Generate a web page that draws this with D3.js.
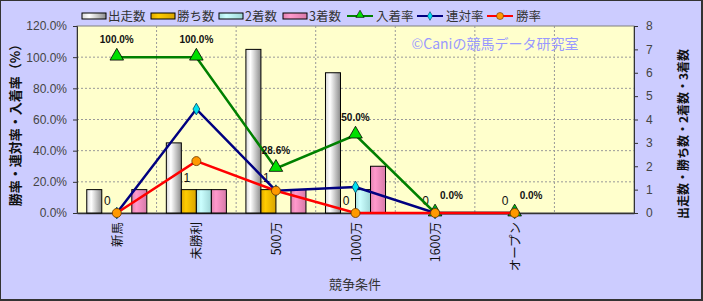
<!DOCTYPE html>
<html><head><meta charset="utf-8">
<script src="https://cdn.jsdelivr.net/npm/d3@7"></script>
<style>html,body{margin:0;padding:0;background:#fff}svg{display:block}</style>
</head><body>
<svg id="c" width="703" height="301"></svg>
<script>
const categories = ["新馬","未勝利","500万","1000万","1600万","オープン",""];
const barSeries = ["出走数","勝ち数","2着数","3着数"];
const runs   = [1,3,7,6,0,0];
const wins   = [0,1,1,0,0,0];
const second = [0,1,0,1,0,0];
const third  = [1,1,1,2,0,0];
const placeRate = [1.0,1.0,0.286,0.5,0,0];
const rentaiRate = [0,0.667,0.143,0.167,0,0];
const winRate = [0,0.333,0.143,0,0,0];
const leftTicks = [0,0.2,0.4,0.6,0.8,1.0,1.2];
const rightTicks = [0,1,2,3,4,5,6,7,8];

const svg = d3.select("#c");
const W=703,H=301;
const L=77,R=634,T=26,B=213;
const jp = "'Noto Sans CJK JP','Noto Sans',sans-serif";
const num = "'Liberation Sans',Arial,sans-serif";

svg.append("rect").attr("x",0).attr("y",0).attr("width",W).attr("height",H).attr("fill","#CCCCFF");
svg.append("rect").attr("x",0.5).attr("y",0.5).attr("width",W-2).attr("height",H-2).attr("fill","none").attr("stroke","#333").attr("stroke-width",1);
svg.append("line").attr("x1",W-1).attr("x2",W-1).attr("y1",0).attr("y2",H).attr("stroke","#333").attr("stroke-width",2);
svg.append("line").attr("x1",0).attr("x2",W).attr("y1",H-1).attr("y2",H-1).attr("stroke","#333").attr("stroke-width",2);

const x = d3.scaleBand().domain(categories).range([L,R]).paddingInner(0).paddingOuter(0);
const xs = d3.scaleBand().domain(barSeries).range([0,x.bandwidth()]).paddingInner(0).paddingOuter(0.65);
const yL = d3.scaleLinear().domain([0,1.2]).range([B,T]);
const yR = d3.scaleLinear().domain([0,8]).range([B,T]);

const defs = svg.append("defs");
function grad(id, stops){
  const g = defs.append("linearGradient").attr("id",id).attr("x1","0").attr("x2","1").attr("y1","0").attr("y2","0");
  stops.forEach(s=>g.append("stop").attr("offset",s[0]).attr("stop-color",s[1]));
}
grad("g0",[[0,"#d8d8d8"],[0.3,"#ffffff"],[1,"#8c8c8c"]]);
grad("g1",[[0,"#e0a800"],[0.3,"#ffcc00"],[1,"#d9a400"]]);
grad("g2",[[0,"#a8e0e0"],[0.3,"#ccffff"],[1,"#9ed6d6"]]);
grad("g3",[[0,"#e083b0"],[0.3,"#ff99cc"],[1,"#d77aa8"]]);
const fills = ["url(#g0)","url(#g1)","url(#g2)","url(#g3)"];

svg.append("rect").attr("x",L).attr("y",T).attr("width",R-L).attr("height",B-T).attr("fill","#FFFFCC").attr("stroke","#808080");

const grid = svg.append("g");
leftTicks.slice(1,-1).forEach(t=>{
  grid.append("line").attr("x1",L).attr("x2",R).attr("y1",yL(t)).attr("y2",yL(t))
    .attr("stroke","#999").attr("stroke-dasharray","2,2").attr("stroke-width",1);
});
categories.slice(1).forEach(c=>{
  grid.append("line").attr("x1",x(c)).attr("x2",x(c)).attr("y1",T).attr("y2",B)
    .attr("stroke","#999").attr("stroke-dasharray","2,2").attr("stroke-width",1);
});

const axL = d3.axisLeft(yL).tickValues(leftTicks).tickFormat(d=>(d*100).toFixed(1)+"%").tickSize(4).tickPadding(6);
const gL = svg.append("g").attr("transform",`translate(${L},0)`).call(axL);
gL.select(".domain").attr("stroke","#333");
gL.selectAll(".tick line").attr("stroke","#333");
gL.selectAll("text").attr("font-family",num).attr("font-size",12).attr("fill","#444");

const axR = d3.axisRight(yR).tickValues(rightTicks).tickFormat(d3.format("d")).tickSize(4).tickPadding(8);
const gR = svg.append("g").attr("transform",`translate(${R},0)`).call(axR);
gR.select(".domain").attr("stroke","#333");
gR.selectAll(".tick line").attr("stroke","#333");
gR.selectAll("text").attr("font-family",num).attr("font-size",12).attr("fill","#444");

const axB = d3.axisBottom(x).tickValues([]).tickSize(0);
const gB = svg.append("g").attr("transform",`translate(0,${B})`).call(axB);
gB.select(".domain").attr("stroke","#333").attr("stroke-width",1.5);

svg.append("g").selectAll("text").data(categories.filter(c=>c!=="")).join("text")
  .attr("transform",c=>`translate(${x(c)+x.bandwidth()/2+5},222) rotate(-90)`)
  .attr("text-anchor","end").attr("font-family",jp).attr("font-size",12.5).attr("fill","#111")
  .text(c=>c);

svg.append("text").attr("transform","translate(355,289)").attr("text-anchor","middle")
  .attr("font-family",jp).attr("font-size",13).attr("fill","#333").text("競争条件");
svg.append("text").attr("transform","translate(20,122) rotate(-90)").attr("text-anchor","middle")
  .attr("font-family",jp).attr("font-size",13).attr("font-weight","bold").attr("fill","#111").text("勝率・連対率・入着率（%）");
svg.append("text").attr("transform","translate(688,134) rotate(-90)").attr("text-anchor","middle")
  .attr("font-family",jp).attr("font-size",12).attr("font-weight","bold").attr("fill","#111").text("出走数・勝ち数・2着数・3着数");

const barData = [runs,wins,second,third];
const bars = svg.append("g");
categories.slice(0,6).forEach((c,i)=>{
  barSeries.forEach((s,j)=>{
    const v = barData[j][i];
    if(v>0){
      bars.append("rect").attr("x",x(c)+xs(s)).attr("y",yR(v)).attr("width",xs.bandwidth()).attr("height",yR(0)-yR(v))
        .attr("fill",fills[j]).attr("stroke","#000").attr("stroke-width",1);
    }
  });
});

svg.append("g").selectAll("text").data(wins).join("text")
  .attr("x",(d,i)=>x(categories[i])+xs("勝ち数")+xs.bandwidth()/2-2)
  .attr("y",d=>yR(d)-8).attr("text-anchor","middle")
  .attr("font-family",num).attr("font-size",12).attr("fill","#111").text(d=>d);

const cx = i=>x(categories[i])+x.bandwidth()/2;
const lineGen = d3.line().x((d,i)=>cx(i)).y(d=>yL(d));
function drawLine(vals,color){
  svg.append("path").datum(vals).attr("d",lineGen).attr("fill","none").attr("stroke",color).attr("stroke-width",2.5);
}
drawLine(placeRate,"#008000");
svg.append("g").selectAll("path").data(placeRate).join("path")
  .attr("d",d3.symbol(d3.symbolTriangle,80)).attr("transform",(d,i)=>`translate(${cx(i)},${yL(d)-1})`)
  .attr("fill","#00E000").attr("stroke","#000").attr("stroke-width",0.8);
drawLine(rentaiRate,"#000080");
svg.append("g").selectAll("path").data(rentaiRate).join("path")
  .attr("d",d3.symbol(d3.symbolDiamond,40)).attr("transform",(d,i)=>`translate(${cx(i)},${yL(d)})`)
  .attr("fill","#00E0F0").attr("stroke","#004060").attr("stroke-width",0.8);
drawLine(winRate,"#FF0000");
svg.append("g").selectAll("circle").data(winRate).join("circle")
  .attr("cx",(d,i)=>cx(i)).attr("cy",d=>yL(d)).attr("r",4.5)
  .attr("fill","#FF9900").attr("stroke","#663300").attr("stroke-width",0.8);

svg.append("g").selectAll("text").data(placeRate).join("text")
  .attr("x",(d,i)=>cx(i)+(d===0?5:0)).attr("y",d=>yL(d)-14).attr("text-anchor",d=>d===0?"start":"middle")
  .attr("font-family",num).attr("font-size",10).attr("font-weight","bold").attr("fill","#111")
  .text(d=>(d*100).toFixed(1)+"%");

svg.append("text").attr("x",495).attr("y",49).attr("text-anchor","middle")
  .attr("font-family",jp).attr("font-size",14).attr("fill","#9999FF").text("©Caniの競馬データ研究室");

const leg = svg.append("g");
const legItems = [
  {t:"出走数",type:"bar",f:fills[0],x:82},
  {t:"勝ち数",type:"bar",f:fills[1],x:151},
  {t:"2着数",type:"bar",f:fills[2],x:219},
  {t:"3着数",type:"bar",f:fills[3],x:283},
  {t:"入着率",type:"line",c:"#008000",m:"tri",x:347},
  {t:"連対率",type:"line",c:"#000080",m:"dia",x:417},
  {t:"勝率",type:"line",c:"#FF0000",m:"cir",x:487}
];
legItems.forEach(it=>{
  if(it.type==="bar"){
    leg.append("rect").attr("x",it.x).attr("y",13).attr("width",24).attr("height",6).attr("fill",it.f).attr("stroke","#000");
  } else {
    leg.append("line").attr("x1",it.x).attr("x2",it.x+26).attr("y1",16).attr("y2",16).attr("stroke",it.c).attr("stroke-width",2);
    const mx = it.x+13;
    if(it.m==="tri") leg.append("path").attr("d",d3.symbol(d3.symbolTriangle,30)).attr("transform",`translate(${mx},15)`).attr("fill","#00E000").attr("stroke","#000").attr("stroke-width",0.6);
    if(it.m==="dia") leg.append("path").attr("d",d3.symbol(d3.symbolDiamond,22)).attr("transform",`translate(${mx},16)`).attr("fill","#00E0F0").attr("stroke","#004060").attr("stroke-width",0.6);
    if(it.m==="cir") leg.append("circle").attr("cx",mx).attr("cy",16).attr("r",3.5).attr("fill","#FF9900").attr("stroke","#663300").attr("stroke-width",0.6);
  }
  leg.append("text").attr("x",it.x+(it.type==="bar"?26:29)).attr("y",21).attr("font-family",jp).attr("font-size",12.5).attr("fill","#333").text(it.t);
});
</script>
</body></html>
